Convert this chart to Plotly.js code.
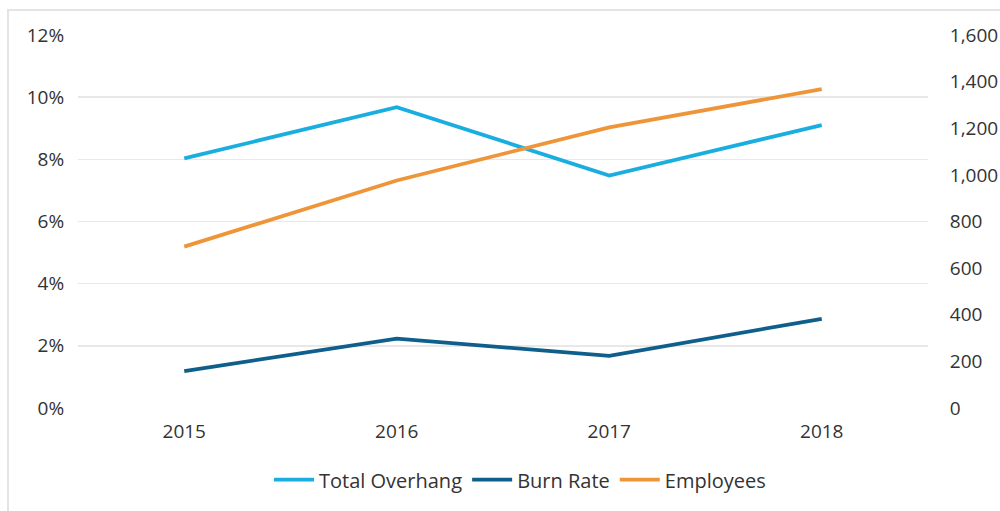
<!DOCTYPE html>
<html>
<head>
<meta charset="utf-8">
<script src="https://cdn.plot.ly/plotly-3.0.1.min.js"></script>
<style>
html,body{margin:0;padding:0;background:#fff;}
#frame{position:absolute;left:7px;top:9px;width:993px;height:502px;border-left:2px solid #e4e4e4;border-top:2px solid #e4e4e4;box-sizing:border-box;pointer-events:none;z-index:2;}
#chart{position:absolute;left:0;top:0;width:1000px;height:511px;}
</style>
</head>
<body>
<div id="chart"></div>
<div id="frame"></div>
<script>
var years = ['2015', '2016', '2017', '2018'];
var totalOverhang = [0.0803, 0.0968, 0.0748, 0.0910];
var burnRate = [0.0119, 0.0223, 0.0168, 0.0287];
var employees = [692, 976, 1204, 1368];

var traces = [
  {x: years, y: totalOverhang, name: 'Total Overhang', type: 'scatter', mode: 'lines',
   line: {color: '#1aaee0', width: 3.8}, yaxis: 'y'},
  {x: years, y: burnRate, name: 'Burn Rate', type: 'scatter', mode: 'lines',
   line: {color: '#0e5f8b', width: 3.8}, yaxis: 'y'},
  {x: years, y: employees, name: 'Employees', type: 'scatter', mode: 'lines',
   line: {color: '#ef9539', width: 3.8}, yaxis: 'y2'}
];

var layout = {
  width: 1000, height: 511,
  margin: {l: 78, r: 72, t: 35, b: 101},
  paper_bgcolor: '#ffffff', plot_bgcolor: '#ffffff',
  font: {family: '"Open Sans", sans-serif', size: 19, color: '#333333'},
  showlegend: true,
  legend: {orientation: 'h', x: 0.52, xanchor: 'center', y: -0.14, yanchor: 'top',
           font: {size: 20, color: '#333333'}, itemwidth: 40, tracegroupgap: 0},
  xaxis: {type: 'category', range: [-0.5, 3.5], showgrid: false, zeroline: false,
          showline: false, ticks: 'outside', ticklen: 6, tickcolor: 'rgba(0,0,0,0)',
          tickfont: {size: 19, color: '#333'}},
  yaxis: {range: [0, 0.12], dtick: 0.02, tickformat: '.0%', showgrid: true,
          gridcolor: '#e8e8e8', gridwidth: 1.5, zeroline: false, showline: false,
          ticks: 'outside', ticklen: 9, tickcolor: 'rgba(0,0,0,0)', tickfont: {size: 19, color: '#333'}},
  yaxis2: {range: [0, 1600], dtick: 200, tickformat: ',d', overlaying: 'y', side: 'right',
           showgrid: false, zeroline: false, showline: false,
           ticks: 'outside', ticklen: 17, tickcolor: 'rgba(0,0,0,0)', tickfont: {size: 19, color: '#333'}}
};

Plotly.newPlot('chart', traces, layout, {displayModeBar: false, staticPlot: true});
</script>
</body>
</html>
